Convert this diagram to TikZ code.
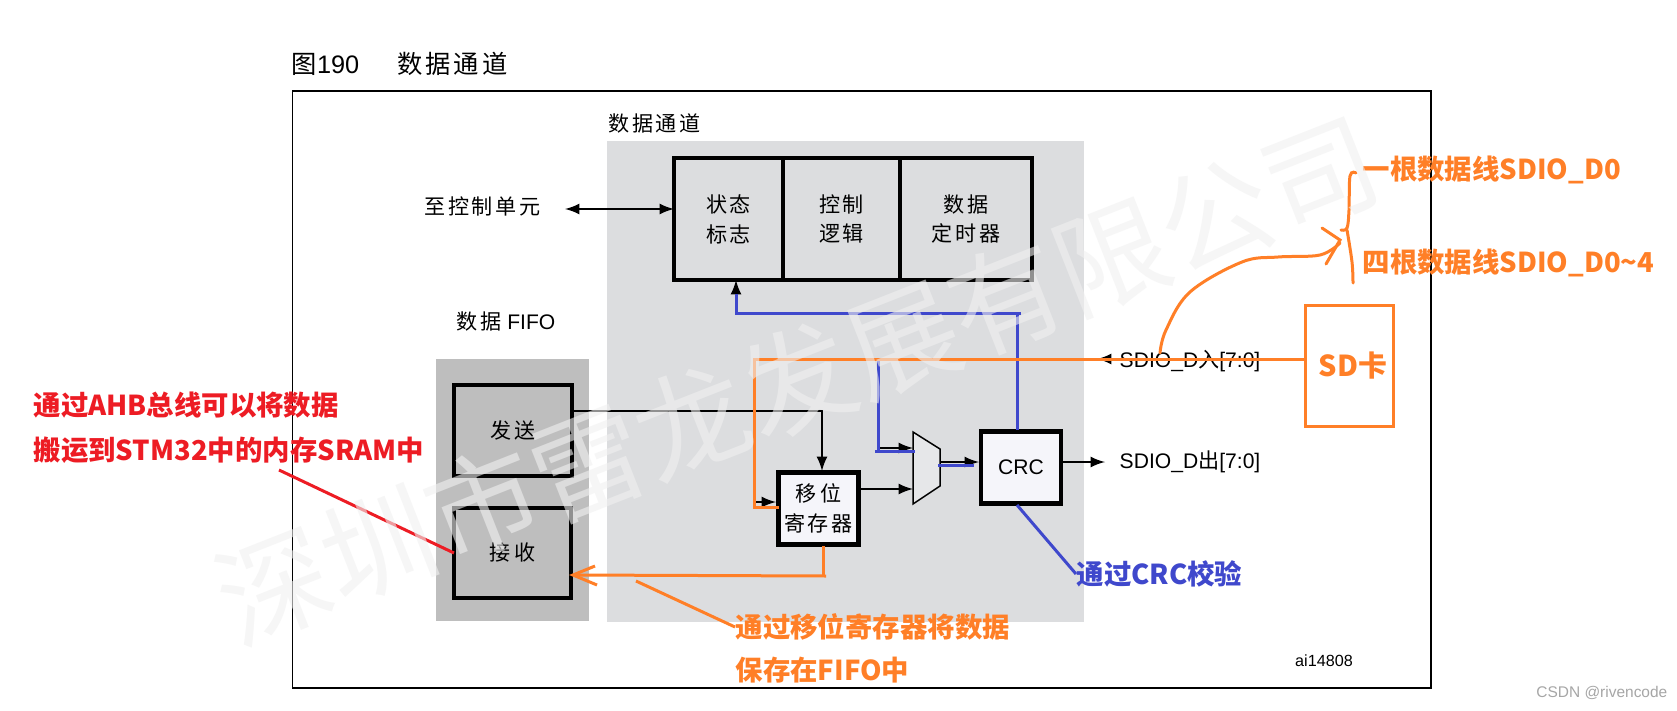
\documentclass[tikz,border=0pt]{standalone}
\usepackage{fontspec}
\setmainfont{Liberation Sans}
\newfontfamily\cjk{Noto Sans CJK SC}
\newfontfamily\cjkwide[LetterSpace=12]{Noto Sans CJK SC}
\usetikzlibrary{arrows}
\definecolor{noteorange}{HTML}{FF7F27}
\definecolor{noteblue}{HTML}{3F48CC}
\definecolor{notered}{HTML}{ED1C24}
\definecolor{pathgray}{HTML}{DCDDDF}
\definecolor{fifogray}{HTML}{BEBEBE}
\definecolor{boxwhite}{HTML}{F5F5FA}
\tikzset{
  blockbox/.style={draw=black,line width=0.045cm,outer sep=0pt,inner sep=0pt,align=center,font=\fontsize{6}{8.5}\selectfont},
  whitebox/.style={blockbox,fill=boxwhite,minimum width=0.8cm,minimum height=0.72cm},
  bgarea/.style={draw=none,inner sep=0pt,outer sep=0pt},
  bus/.style={black,line width=0.015cm,-latex},
  bluewire/.style={noteblue,line width=0.03cm},
  orangewire/.style={noteorange,line width=0.03cm},
  labeltext/.style={font=\fontsize{6}{8.5}\selectfont,inner sep=0pt},
  notetext/.style={font=\cjk\bfseries\fontsize{7.8}{9}\selectfont,inner sep=0pt,anchor=west}
}
\begin{document}
\begin{tikzpicture}[y=-1cm]
\useasboundingbox (0,0) rectangle (16.77,7.10);
\fill[white] (0,0) rectangle (16.77,7.10);

\draw (2.91,0.64) node[labeltext,anchor=west,font=\fontsize{7.2}{9}\selectfont] (title) {{\cjk 图}190\hspace{0.38cm}{\cjkwide 数据通道}};
\draw[line width=0.015cm] (2.925,0.91) rectangle (14.31,6.88);

\node[bgarea,fill=pathgray,minimum width=4.77cm,minimum height=4.81cm] (patharea) at (8.455,3.815) {};
\node[bgarea,fill=fifogray,minimum width=1.53cm,minimum height=2.62cm] (fifoarea) at (5.125,4.9) {};
\draw (6.08,1.23) node[labeltext,anchor=west] (pathname) {\cjkwide 数据通道};
\draw (4.56,3.22) node[labeltext,anchor=west] (fifoname) {{\cjkwide 数据} FIFO};
\draw (4.24,2.06) node[labeltext,anchor=west] (ctrlunit) {\cjkwide 至控制单元};

\node[blockbox,minimum width=1.09cm,minimum height=1.22cm] (flags) at (7.285,2.19) {\cjkwide 状态\\\cjkwide 标志};
\node[blockbox,minimum width=1.17cm,minimum height=1.22cm] (logic) at (8.415,2.19) {\cjkwide 控制\\\cjkwide 逻辑};
\node[blockbox,minimum width=1.32cm,minimum height=1.22cm] (timer) at (9.66,2.19) {\cjkwide 数据\\\cjkwide 定时器};
\node[blockbox,minimum width=1.18cm,minimum height=0.91cm] (txbox) at (5.13,4.305) {\cjkwide 发\,送};
\node[blockbox,minimum width=1.17cm,minimum height=0.9cm] (rxbox) at (5.125,5.53) {\cjkwide 接\,收};
\node[whitebox] (shift) at (8.185,5.085) {\cjkwide 移\,位\\\cjkwide 寄存器};
\node[whitebox] (crc) at (10.21,4.675) {CRC};

\coordinate (muxa) at (9.13,4.32);
\coordinate (muxb) at (9.40,4.49);
\coordinate (muxc) at (9.40,4.86);
\coordinate (muxd) at (9.13,5.04);
\draw[fill=pathgray!70,line width=0.015cm] (muxa)--(muxb)--(muxc)--(muxd)--cycle;

\draw (11.19,3.61) node[labeltext,anchor=west] (sdin) {SDIO\_D{\cjk 入}[7:0]};
\draw (11.19,4.62) node[labeltext,anchor=west] (sdout) {SDIO\_D{\cjk 出}[7:0]};
\draw (13.24,6.61) node[labeltext,font=\fontsize{4.6}{6}\selectfont] (ainum) {ai14808};

\coordinate (txout) at (5.74,4.11);
\coordinate (txturn) at (8.22,4.11);
\coordinate (shifttop) at (8.22,4.71);
\coordinate (muxlow) at (9.13,4.89);
\coordinate (muxhigh) at (9.13,4.48);
\coordinate (muxout) at (9.40,4.62);
\coordinate (crcin) at (9.79,4.62);
\coordinate (inhigh) at (8.78,4.48);
\coordinate (shiftin) at (7.76,5.02);
\coordinate (inlow) at (7.54,5.02);
\coordinate (flagsin) at (7.36,2.80);
\coordinate (flagsmid) at (7.36,3.13);
\coordinate (sdarrow) at (10.97,3.59);
\coordinate (sdarrowend) at (11.17,3.59);

\draw[bus,latex-latex] (5.65,2.09)--(flags.west |- 0,2.09);
\draw[bus] (txout)--(txturn)--(shifttop);
\draw[bus] (shift.east |- muxlow)--(muxlow);
\draw[bus] (inlow)--(shiftin);
\draw[bus] (inhigh)--(muxhigh);
\draw[bus] (muxout)--(crcin);
\draw[bus] (crc.east |- 0,4.62)--(11.05,4.62);
\draw[bus] (sdarrowend)--(sdarrow);
\draw[bus] (flagsmid)--(flagsin);

% blue notes
\coordinate (bluedown) at (8.78,3.59);
\coordinate (bluein) at (8.75,4.51);
\coordinate (blueend) at (9.15,4.51);
\draw[bluewire] (bluedown)--(8.78,4.51);
\draw[bluewire] (bluein)--(blueend);
\draw[bluewire] (9.38,4.65)--(9.74,4.65);
\coordinate (crctop) at (10.17,4.30);
\coordinate (crcup) at (10.17,3.13);
\draw[bluewire] (crctop)--(crcup);
\draw[bluewire] (10.21,3.13)--(flagsmid)--(7.36,2.94);
\coordinate (crcbottom) at (10.17,5.05);
\node[notetext,text=noteblue] (crcnote) at (10.76,5.74) {通过CRC校验};
\draw[bluewire] (crcbottom)--(crcnote.west);

% orange notes
\node[draw=noteorange,line width=0.03cm,minimum width=0.88cm,minimum height=1.21cm,inner sep=0pt,outer sep=0pt] (sdcard) at (13.49,3.655) {};
\draw (13.53,3.66) node[notetext,anchor=center,text=noteorange,font=\cjk\bfseries\fontsize{8.2}{9}\selectfont] (sdname) {SD卡};
\coordinate (leftturn) at (7.54,3.59);
\coordinate (leftdown) at (7.54,5.07);
\coordinate (shiftout) at (8.23,5.46);
\coordinate (shiftturn) at (8.26,5.76);
\coordinate (rxin) at (5.73,5.75);
\draw[orangewire] (sdcard.west |- leftturn)--(leftturn)--(leftdown)--(shift.west |- leftdown);
\draw[orangewire] (shiftout)--(8.23,5.76);
\draw[orangewire] (shiftturn)--(rxin);
\draw[orangewire] (5.95,5.66)--(rxin)--(5.97,5.85);
\node[notetext,text=noteorange] (movenote) at (7.35,6.27) {通过移位寄存器将数据};
\node[notetext,text=noteorange] (savenote) at (7.35,6.70) {保存在FIFO中};
\draw[orangewire] (6.36,5.81)--(movenote.west);

\node[notetext,text=noteorange] (onewire) at (13.62,1.70) {一根数据线SDIO\_D0};
\node[notetext,text=noteorange] (fourwire) at (13.62,2.63) {四根数据线SDIO\_D0\textasciitilde4};
\draw[orangewire,line cap=round] plot[smooth,tension=0.6] coordinates {(13.56,1.73) (13.50,1.76) (13.49,2.10) (13.47,2.28) (13.41,2.30)};
\draw[orangewire,line cap=round] plot[smooth,tension=0.6] coordinates {(13.47,2.30) (13.52,2.62) (13.53,2.83)};
\draw[orangewire,line cap=round] plot[smooth,tension=0.6] coordinates {(11.60,3.53) (11.66,3.30) (11.90,2.92) (12.42,2.62) (12.78,2.57) (13.20,2.55) (13.40,2.43)};
\draw[orangewire,line cap=round] (13.22,2.28)--(13.40,2.40)--(13.26,2.64);

% red note
\node[notetext,text=notered] (ahbnote) at (0.33,4.05) {通过AHB总线可以将数据};
\node[notetext,text=notered] (sramnote) at (0.33,4.50) {搬运到STM32中的内存SRAM中};
\draw[notered,line width=0.03cm] (2.79,4.70)--(rxbox.west |- 0,5.53);

\node[text=gray!70,labeltext,font=\fontsize{4.4}{6}\selectfont,anchor=east] (csdn) at (16.68,6.93) {CSDN @rivencode};

\node[rotate=21.5,text=gray!12,text opacity=0.6,font=\cjk\fontsize{32}{34}\selectfont,inner sep=0pt] (stamp) at (7.97,3.80) {深圳市雷龙发展有限公司};
\end{tikzpicture}
\end{document}
